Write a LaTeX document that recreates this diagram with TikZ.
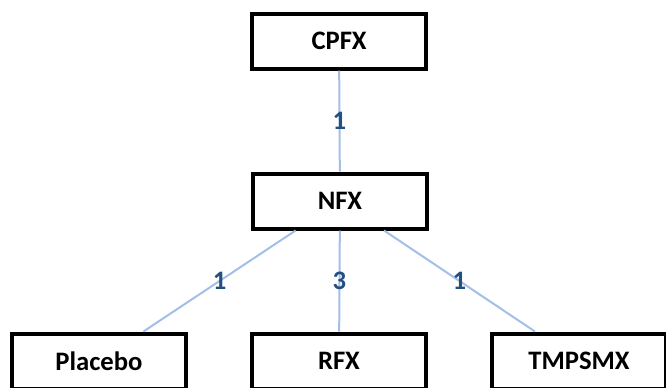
\documentclass[tikz,border=0pt]{standalone}
\usepackage{fontspec}
\setmainfont{Carlito}
\definecolor{edgeblue}{HTML}{A3BFE8}
\definecolor{labelblue}{HTML}{24507F}
\begin{document}
\begin{tikzpicture}[x=0.75pt,y=-0.75pt,
    drug/.style={draw, line width=3pt, minimum width=130.5pt, minimum height=41.25pt,
      inner sep=0pt, font=\fontsize{20}{24}\selectfont\bfseries},
    link/.style={edgeblue, line width=1.5pt},
    num/.style={labelblue, inner sep=0pt, font=\fontsize{20}{24}\selectfont\bfseries}]
  \useasboundingbox (0,0) rectangle (666,387);
  \clip (0,0) rectangle (666,387);
  % treatments
  \node[drug] (cpfx) at (339,41) {CPFX};
  \node[drug] (nfx) at (340,201) {NFX};
  \node[drug] (placebo) at (99,361) {Placebo};
  \node[drug] (rfx) at (339,361) {RFX};
  \node[drug] (tmpsmx) at (579,361) {TMPSMX};
  % comparisons
  \draw[link] (cpfx) -- node[num] {1} (nfx);
  \draw[link] (nfx) -- node[num] {1} (placebo);
  \draw[link] (nfx) -- node[num] {3} (rfx);
  \draw[link] (nfx) -- node[num] {1} (tmpsmx);
\end{tikzpicture}
\end{document}
